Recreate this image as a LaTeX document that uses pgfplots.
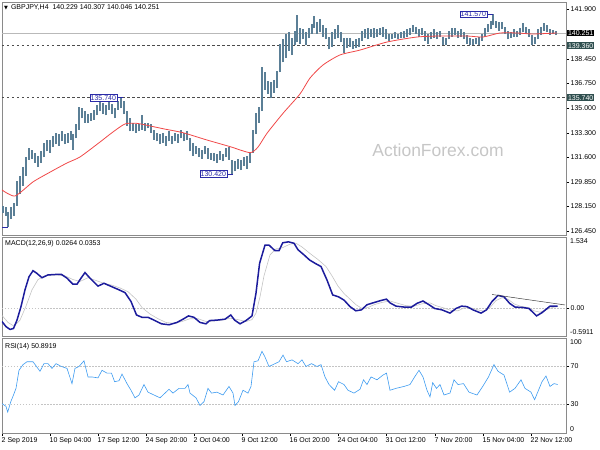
\documentclass[border=0pt]{standalone}
\usepackage{fontspec}
\setmainfont{Liberation Sans}
\newfontfamily\dejavu{DejaVu Sans}
\usepackage{pgfplots}
\usepackage{pgfplotstable}
\pgfplotsset{compat=1.18}
\definecolor{barcol}{HTML}{5B7F96}
\definecolor{macol}{HTML}{F04848}
\definecolor{macdcol}{HTML}{1C1C9C}
\definecolor{sigcol}{HTML}{C4C4C4}
\definecolor{rsicol}{HTML}{3D9BF0}
\definecolor{anncol}{HTML}{2B2BA8}
\definecolor{slatebox}{HTML}{2F4F4F}
\definecolor{framecol}{HTML}{8A8A8A}

\pgfplotstableread{
x l h
3 127.7 128.2
6 127.5 128.1
8 126.7 127.8
11 127.3 128.1
14 127.5 128.4
17 128.2 129.9
20 129.0 130.3
23 129.6 130.9
26 130.3 131.6
29 131.4 132.2
32 131.5 132.1
35 131.2 131.9
38 130.9 131.7
41 131.2 132.0
44 131.6 132.6
47 132.0 132.8
50 131.9 132.8
53 132.3 133.1
56 132.5 133.3
59 132.4 133.2
62 132.7 133.4
65 132.5 133.2
68 132.6 133.3
71 132.8 133.4
73 132.1 133.2
76 132.9 133.9
79 133.5 135.1
82 134.3 135.0
85 134.0 134.8
88 134.0 134.6
91 134.1 134.7
94 134.2 134.9
97 134.5 135.2
100 134.8 135.6
103 134.6 135.4
106 134.5 135.2
109 134.9 135.7
112 134.6 135.3
115 134.3 135.0
118 134.9 135.5
121 135.0 135.74
124 134.6 135.5
127 133.8 134.8
130 133.4 134.3
133 133.4 134.0
136 133.3 133.9
139 133.4 133.9
142 133.5 134.5
145 133.4 134.0
148 133.6 134.0
151 133.3 133.9
154 132.8 133.5
157 132.7 133.3
160 132.5 133.2
163 132.6 133.3
166 132.4 133.1
169 132.7 133.4
172 132.5 133.1
175 132.7 133.3
178 132.6 133.2
181 132.9 133.5
184 132.7 133.3
187 132.8 133.4
190 132.0 132.9
193 131.7 132.6
196 131.8 132.4
199 131.6 132.2
202 131.5 132.1
205 131.8 132.4
208 131.5 132.2
211 131.4 131.9
214 131.3 131.9
217 131.2 131.8
220 131.4 132.0
223 131.3 131.8
226 131.6 132.2
229 131.4 132.3
232 130.42 131.4
235 130.6 131.3
238 130.8 131.5
241 130.7 131.4
244 131.0 131.6
247 130.8 131.7
250 131.2 131.9
253 131.9 133.5
256 133.2 134.7
259 134.0 135.1
262 134.8 137.9
265 136.3 137.5
268 136.0 136.9
271 135.7 136.8
274 136.1 137.0
277 136.4 137.6
280 137.5 139.5
283 138.2 139.8
286 138.5 140.2
289 139.0 140.3
292 138.7 139.9
295 139.4 140.4
297 139.6 141.5
300 139.5 140.6
303 139.8 140.5
306 139.4 140.3
309 139.9 140.6
312 140.2 140.9
314 140.6 141.4
317 140.2 141.0
320 140.3 141.2
323 140.0 140.8
326 139.8 140.6
329 139.1 140.0
332 139.3 140.3
335 139.8 140.5
338 139.9 140.8
341 139.6 140.3
344 138.85 139.9
347 139.2 139.9
350 139.3 139.9
353 139.1 139.7
356 139.2 139.8
359 139.3 139.9
362 139.7 140.4
365 139.9 140.5
368 139.8 140.6
371 140.0 140.5
374 139.9 140.6
377 140.0 140.5
380 140.1 140.6
383 140.0 140.7
386 139.8 140.5
389 139.7 140.2
392 139.8 140.2
395 139.9 140.3
398 139.8 140.2
401 139.9 140.3
404 139.9 140.4
407 140.0 140.5
410 140.1 140.6
413 140.3 140.8
416 140.2 140.7
419 140.0 140.5
422 140.1 140.6
425 139.7 140.4
428 139.5 140.2
431 139.8 140.3
434 139.9 140.5
437 139.8 140.3
440 140.0 140.4
443 139.4 140.0
446 139.4 139.9
449 139.8 140.4
452 140.0 140.6
455 140.1 140.6
458 139.9 140.4
461 140.0 140.5
464 139.8 140.3
467 139.5 140.1
470 139.4 139.9
473 139.4 139.8
476 139.5 139.9
479 139.4 140.0
482 139.7 140.2
485 140.0 140.6
488 140.3 140.9
491 140.5 141.1
493 140.8 141.57
496 140.6 141.1
499 140.4 141.0
502 140.5 141.0
505 140.2 140.7
508 139.8 140.4
511 139.9 140.3
514 140.0 140.5
517 140.0 140.4
520 140.1 140.6
523 140.3 140.95
526 140.2 140.7
529 140.0 140.5
532 139.4 140.1
535 139.5 140.0
538 139.8 140.5
541 140.1 140.7
544 140.4 140.95
547 140.3 140.8
550 140.1 140.5
553 140.2 140.45
556 140.1 140.4
}\bars

\pgfplotstableread{
x y
2 129.31
15 128.89
33 129.87
50 130.55
67 131.19
80 131.61
100 132.65
112 133.30
125 133.91
137 133.95
150 133.77
165 133.55
183 133.30
207 132.79
230 132.33
250 131.91
258 132.30
267 133.26
283 134.65
300 136.00
310 137.11
323 138.02
340 138.72
360 139.06
387 139.62
417 139.97
440 140.04
467 140.04
483 139.97
500 140.25
517 140.25
533 140.18
557 140.25
}\ma

\pgfplotstableread{
x y
2 -0.28
6 -0.39
10 -0.45
13.5 -0.43
17 -0.25
21 0.04
25 0.40
29 0.68
33 0.81
36.5 0.76
42 0.66
48 0.72
56 0.73
61.5 0.73
67 0.65
73 0.52
77 0.52
81 0.65
85 0.77
90 0.65
98 0.48
104 0.54
111.5 0.47
119 0.40
125 0.34
131 0.15
136.5 -0.14
142 -0.19
148 -0.19
154 -0.25
161.5 -0.33
169 -0.35
177 -0.30
183 -0.23
188.5 -0.16
194 -0.19
200 -0.30
206 -0.33
209.6 -0.26
217 -0.25
225 -0.23
230.8 -0.14
234.6 -0.25
240 -0.33
246 -0.26
252 -0.16
256 0.33
259.6 0.97
265 1.36
269 1.36
275 1.24
279 1.24
282.7 1.41
288.5 1.43
294 1.40
298 1.26
304 1.15
309.6 1.04
315 0.97
321 0.90
327 0.61
332.7 0.29
338.5 0.25
344 0.18
350 0.04
355.8 -0.05
361.5 -0.03
367 0.08
373 0.12
380.8 0.17
386.5 0.20
390 0.12
396 0.05
404 0.03
411.5 0.03
417 0.11
423 0.16
429 0.08
434.6 0.00
442 -0.03
450 -0.10
456 0.00
461.5 0.05
467 0.04
473 -0.03
481 -0.10
486.5 -0.03
492 0.15
498 0.28
504 0.25
509.6 0.11
515 0.03
523 0.02
529 0.00
536.5 -0.16
542 -0.09
550 0.05
557.7 0.05
}\macd

\pgfplotstableread{
x y
2 -0.15
8 -0.30
14 -0.38
20 -0.25
26 0.05
32 0.40
38 0.62
45 0.70
55 0.72
65 0.70
73 0.62
80 0.58
88 0.66
96 0.60
104 0.54
112 0.50
120 0.44
128 0.36
136 0.20
142 0.02
150 -0.12
158 -0.22
166 -0.30
174 -0.32
182 -0.28
190 -0.22
198 -0.22
206 -0.28
214 -0.27
222 -0.25
230 -0.21
238 -0.24
246 -0.28
252 -0.24
256 -0.10
260 0.25
264 0.70
270 1.15
276 1.28
282 1.30
290 1.38
296 1.40
302 1.32
310 1.18
318 1.05
326 0.90
332 0.70
338 0.48
344 0.32
350 0.20
356 0.08
362 0.00
368 0.02
374 0.08
382 0.13
390 0.16
398 0.11
406 0.06
414 0.05
422 0.10
430 0.12
436 0.06
444 0.01
452 -0.05
458 -0.05
464 0.01
470 0.02
476 -0.02
484 -0.06
490 0.02
496 0.17
502 0.23
508 0.20
514 0.10
520 0.05
528 0.02
534 -0.05
540 -0.08
546 -0.03
552 0.02
558 0.04
}\signal

\pgfplotstableread{
x y
2 31
6 28
7.7 22
10.8 33
13.5 40
16 47
19 66
23 72
27 75
33 75
36.5 70
40 65
44 73
48 73
52 68
56 73
61.5 70
67 68
72 52
75 68
79 70
84 76
88 59
92 59
98 58
102 66
107 63
111.5 63
114.6 54
119 55
122 62
127 52
131 45
135 37
139 40
144 51
148 43
154 40
160 37
165 42
169 46
173 42
179 47
185 47
188 51
190 42
196 37
200 29
204 33
208 47
211.5 42
217 43
223 40
229 49
233 42
235 29
238.5 33
243 45
248 42
251 49
254 75
258 76
262 86
265 80
269 70
275 73
279 75
283 82
286.5 75
292 77
298 73
302 77
306 70
311.5 73
317 70
321 72
325 59
329 51
334.6 45
338.5 54
344 51
348 45
354 42
360 46
363.5 56
367 51
371 59
377 56
383 61
386.5 63
390 45
396 47
404 49
410 51
414.6 59
419 66
423 59
427 45
430 38
432.7 53
436.5 47
440 51
444 40
450 42
454 56
458 51
463.5 52
469 43
477 40
482.7 49
488.5 59
494 72
498 65
504 61
509.6 43
515 47
521 56
525 47
531 43
534.6 35
538.5 45
542 54
546 60
550 49
554 52
557.7 51
}\rsi

\pgfplotsset{
  pane/.style={
    scale only axis, width=564pt, xmin=2, xmax=566,
    axis line style={framecol, line width=0.8pt},
    ytick pos=right, xtick pos=bottom,
    tick align=outside, major tick length=3pt,
    tick style={black, line width=0.4pt},
    ticklabel style={font=\fontsize{7}{8}\selectfont, inner sep=1pt},
    yticklabel style={anchor=west, xshift=0.5pt},
    /pgf/number format/assume math mode=true,
    clip=true,
  },
}

\begin{document}
\begin{tikzpicture}[x=1pt,y=1pt]
\fontsize{7}{8}\selectfont
% ---------- main price pane ----------
\begin{axis}[pane, at={(2pt,215pt)}, anchor=south west, height=233pt,
  ymin=126.17, ymax=142.41, xtick=\empty,
  ytick={126.45,128.15,129.85,131.6,133.3,135.0,136.75,138.45,141.9},
  yticklabels={126.450,128.150,129.850,131.600,133.300,135.000,136.750,138.450,141.900},
  clip mode=individual]
\node[text=gray!45, font=\fontsize{17.5}{20}\selectfont] at (axis cs:438,132.1) {ActionForex.com};
\addplot[gray!55, line width=0.6pt] coordinates {(2,140.251) (566,140.251)};
\addplot[black!70, line width=0.6pt, dash pattern=on 2.5pt off 2.5pt] coordinates {(2,139.36) (566,139.36)};
\addplot[black!70, line width=0.6pt, dash pattern=on 2.5pt off 2.5pt] coordinates {(2,135.74) (566,135.74)};
\addplot[draw=none, no markers, error bars/.cd, y dir=plus, y explicit, error mark=none,
  error bar style={draw=barcol, solid, line width=1.1pt}]
  table[x=x, y=l, y error expr=\thisrow{h}-\thisrow{l}] {\bars};
\addplot[macol, line width=0.8pt, smooth, tension=0.4] table[x=x, y=y] {\ma};
% annotations
\draw[anncol, line width=0.6pt] (axis cs:117,135.74) -- (axis cs:123,135.74);
\node[draw=anncol, fill=white, text=anncol, inner sep=0.8pt, anchor=east, line width=0.5pt] at (axis cs:117,135.74) {135.740};
\draw[anncol, line width=0.6pt] (axis cs:227,130.42) -- (axis cs:233,130.42);
\node[draw=anncol, fill=white, text=anncol, inner sep=0.8pt, anchor=east, line width=0.5pt] at (axis cs:227,130.42) {130.420};
\draw[anncol, line width=0.6pt] (axis cs:487,141.57) -- (axis cs:493,141.57);
\node[draw=anncol, fill=white, text=anncol, inner sep=0.8pt, anchor=east, line width=0.5pt] at (axis cs:487,141.57) {141.570};
\draw[anncol, line width=0.8pt] (axis cs:2,126.7) -- (axis cs:8,126.7);
\node[anchor=west, inner sep=0pt] at (axis cs:4,142.0) {{\dejavu\fontsize{5}{6}\selectfont ▼}\hspace{3pt}GBPJPY,H4\ \ 140.229 140.307 140.046 140.251};
% price boxes on the scale
\node[fill=black, text=white, anchor=west, inner sep=0.8pt, xshift=1pt] at (axis cs:566,140.251) {140.251};
\node[fill=slatebox, text=white, anchor=west, inner sep=0.8pt, xshift=1pt] at (axis cs:566,139.36) {139.360};
\node[fill=slatebox, text=white, anchor=west, inner sep=0.8pt, xshift=1pt] at (axis cs:566,135.74) {135.740};
\end{axis}
% ---------- MACD pane ----------
\begin{axis}[pane, at={(2pt,114pt)}, anchor=south west, height=99pt,
  ymin=-0.5911, ymax=1.534, xtick=\empty,
  ytick={0}, yticklabels={0.00}, clip mode=individual]
\addplot[sigcol, line width=0.5pt, dash pattern=on 1.5pt off 1.5pt] coordinates {(2,0) (566,0)};
\addplot[sigcol, line width=0.6pt] table[x=x, y=y] {\signal};
\addplot[macdcol, line width=1.5pt] table[x=x, y=y] {\macd};
\addplot[black!75, line width=0.5pt] coordinates {(492,0.30) (565,0.075)};
\node[anchor=west, inner sep=0pt] at (axis cs:5,1.38) {MACD(12,26,9) 0.0264 0.0353};
\node[anchor=north west, inner sep=1pt, xshift=3pt] at (rel axis cs:1,1) {1.534};
\node[anchor=south west, inner sep=1pt, xshift=3pt] at (rel axis cs:1,0) {-0.5911};
\end{axis}
% ---------- RSI pane ----------
\begin{axis}[pane, at={(2pt,17pt)}, anchor=south west, height=95pt,
  ymin=0, ymax=100,
  ytick={30,70}, yticklabels={30,70},
  xtick={2,50,98,146,194,242,290,338,386,435,483,531},
  xticklabels={2 Sep 2019,10 Sep 04:00,17 Sep 12:00,24 Sep 20:00,2 Oct 04:00,9 Oct 12:00,16 Oct 20:00,24 Oct 04:00,31 Oct 12:00,7 Nov 20:00,15 Nov 04:00,22 Nov 12:00},
  xticklabel style={anchor=north west, xshift=-1.5pt, yshift=0pt},
  clip mode=individual]
\addplot[sigcol, line width=0.5pt, dash pattern=on 1.5pt off 1.5pt] coordinates {(2,70) (566,70)};
\addplot[sigcol, line width=0.5pt, dash pattern=on 1.5pt off 1.5pt] coordinates {(2,30) (566,30)};
\addplot[rsicol, line width=0.6pt] table[x=x, y=y] {\rsi};
\node[anchor=west, inner sep=0pt] at (axis cs:5,91) {RSI(14) 50.8919};
\node[anchor=north west, inner sep=1pt, xshift=3pt] at (rel axis cs:1,1) {100};
\node[anchor=south west, inner sep=1pt, xshift=3pt] at (rel axis cs:1,0) {0};
\end{axis}
\pgfresetboundingbox
\path (0,0) rectangle (600,450);
\end{tikzpicture}
\end{document}
